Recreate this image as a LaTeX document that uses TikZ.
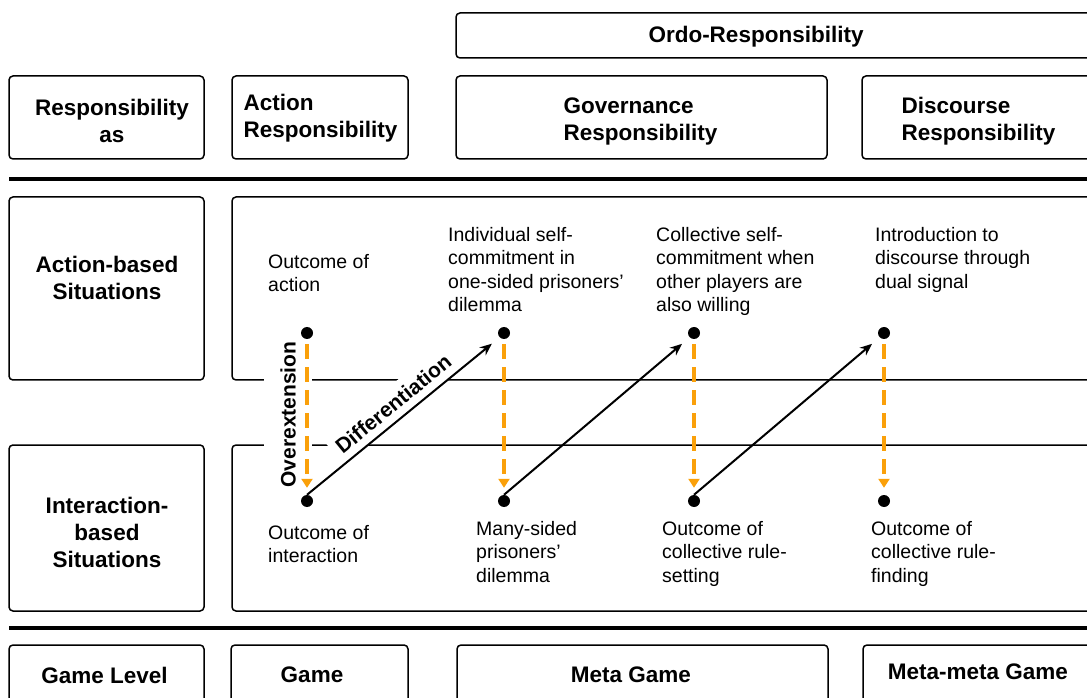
\documentclass[tikz,border=0pt]{standalone}
\usepackage{fontspec}
\setmainfont{Liberation Sans}
\usetikzlibrary{arrows.meta}
\definecolor{orng}{RGB}{250,160,10}
\tikzset{
 box/.style={draw=black, line width=1.5pt, rounded corners=4pt},
 sepline/.style={line width=4pt},
 head/.style={font=\fontsize{22.5}{27}\selectfont\bfseries, inner sep=0pt},
 body/.style={font=\fontsize{19.5}{23.5}\selectfont, align=left, anchor=north west, inner sep=0pt},
 dot/.style={circle, fill=black, inner sep=0pt, minimum size=12pt},
 ext/.style={draw=orng, line width=3.5pt, dash pattern=on 15pt off 8pt, -{Triangle[width=11pt,length=9pt]}, shorten <=5pt, shorten >=7pt},
 dif/.style={draw=black, line width=2pt, -{Stealth[length=12pt,width=10pt]}, shorten >=10pt},
 lab/.style={font=\fontsize{21}{25}\selectfont\bfseries, fill=white}
}
\begin{document}
\begin{tikzpicture}[x=1pt,y=1pt]
\useasboundingbox (0,0) rectangle (1087,697);
\clip (0,0) rectangle (1087,697);
% top boxes
\draw[box] (456,639) rectangle (1100,684);
\draw[box] (9,538) rectangle (204,621);
\draw[box] (232,538) rectangle (408,621);
\draw[box] (456,538) rectangle (827,621);
\draw[box] (862,538) rectangle (1100,621);
\draw[sepline] (9,518) -- (1100,518);
% rows
\draw[box] (9,317) rectangle (204,500);
\draw[box] (232,317) rectangle (1100,500);
\draw[box] (9,86) rectangle (204,252);
\draw[box] (232,86) rectangle (1100,252);
\draw[sepline] (9,69) -- (1100,69);
% bottom boxes
\draw[box] (9,-20) rectangle (204,52);
\draw[box] (231,-20) rectangle (408,52);
\draw[box] (457,-20) rectangle (828,52);
\draw[box] (863,-20) rectangle (1100,52);
% header texts
\node[head] (ordo) at (756,660) {Ordo-Responsibility};
\node[head, align=center] (respas) at (112,576.5) {Responsibility\\as};
\node[head, align=left] (actresp) at (320.5,579) {Action\\Responsibility};
\node[head, align=left] (govresp) at (640.5,576) {Governance\\Responsibility};
\node[head, align=left] (disresp) at (978.5,575.5) {Discourse\\Responsibility};
\node[head, align=center] (actsit) at (107,419) {Action-based\\Situations};
\node[head, align=center] (intsit) at (107,165) {Interaction-\\based\\Situations};
\node[head] (glevel) at (104.5,22) {Game Level};
\node[head] (game) at (312,22) {Game};
\node[head] (meta) at (631,22) {Meta Game};
\node[head] (metameta) at (978,25) {Meta-meta Game};
% body texts
\node[body] (oa) at (268,443) {Outcome of\\action};
\node[body] (ind) at (448,470) {Individual self-\\commitment in\\one-sided prisoners’\\dilemma};
\node[body] (col) at (656,470) {Collective self-\\commitment when\\other players are\\also willing};
\node[body] (intro) at (875,470) {Introduction to\\discourse through\\dual signal};
\node[body] (oi) at (268,172) {Outcome of\\interaction};
\node[body] (many) at (476,176) {Many-sided\\prisoners’\\dilemma};
\node[body] (ors) at (662,176) {Outcome of\\collective rule-\\setting};
\node[body] (orf) at (871,176) {Outcome of\\collective rule-\\finding};
% overextension label
\node[lab, rotate=90, inner xsep=5pt, inner ysep=16pt] (over) at (288,282.5) {Overextension};
% dots
\node[dot] (t1) at (307,364) {};
\node[dot] (t2) at (504,364) {};
\node[dot] (t3) at (694,364) {};
\node[dot] (t4) at (884,364) {};
\node[dot] (b1) at (307,196) {};
\node[dot] (b2) at (504,196) {};
\node[dot] (b3) at (694,196) {};
\node[dot] (b4) at (884,196) {};
% differentiation label
\path (b1.north) -- node[lab, sloped, above, pos=0.5, inner xsep=6pt, inner ysep=8pt] (diff) {Differentiation} (t2.south west);
% arrows
\draw[ext] (t1.south) -- (b1.north);
\draw[ext] (t2.south) -- (b2.north);
\draw[ext] (t3.south) -- (b3.north);
\draw[ext] (t4.south) -- (b4.north);
\draw[dif] (b1.north) -- (t2.south west);
\draw[dif] (b2.north) -- (t3.south west);
\draw[dif] (b3.north) -- (t4.south west);
\end{tikzpicture}
\end{document}
